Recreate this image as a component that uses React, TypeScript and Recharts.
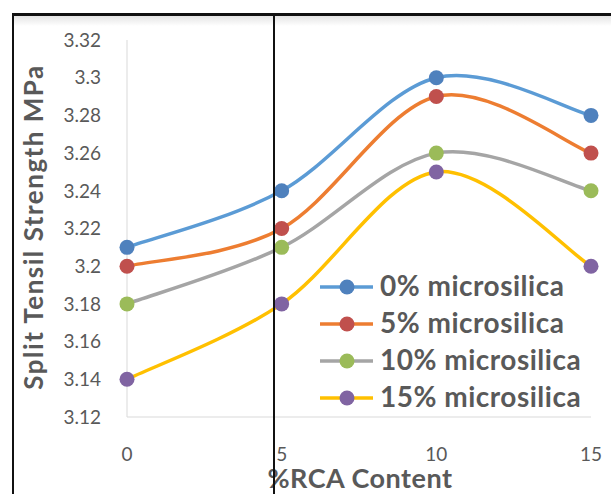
import { LineChart, Line, XAxis, YAxis } from 'recharts';

const rcaContent = [0, 5, 10, 15];
const ms0 = [3.21, 3.24, 3.3, 3.28];
const ms5 = [3.2, 3.22, 3.29, 3.26];
const ms10 = [3.18, 3.21, 3.26, 3.24];
const ms15 = [3.14, 3.18, 3.25, 3.2];
const yTicks = [3.12, 3.14, 3.16, 3.18, 3.2, 3.22, 3.24, 3.26, 3.28, 3.3, 3.32];

const SERIES = [
  { key: 'ms0', name: '0% microsilica', line: '#5B9BD5', dot: '#4F81BD' },
  { key: 'ms5', name: '5% microsilica', line: '#ED7D31', dot: '#C0504D' },
  { key: 'ms10', name: '10% microsilica', line: '#A5A5A5', dot: '#9BBB59' },
  { key: 'ms15', name: '15% microsilica', line: '#FFC000', dot: '#8064A2' },
];

const data = rcaContent.map((x, i) => ({
  x,
  ms0: ms0[i],
  ms5: ms5[i],
  ms10: ms10[i],
  ms15: ms15[i],
}));

const FONT = 'Lato, "Open Sans", sans-serif';
const GREY = '#595959';

// Excel-style smoothed line (Catmull-Rom through the points)
const excelSmooth = (ctx: any) => {
  let pts: [number, number][] = [];
  return {
    areaStart() {},
    areaEnd() {},
    lineStart() {
      pts = [];
    },
    point(x: number, y: number) {
      pts.push([x, y]);
    },
    lineEnd() {
      if (!pts.length) return;
      ctx.moveTo(pts[0][0], pts[0][1]);
      for (let i = 0; i < pts.length - 1; i++) {
        const p0 = pts[Math.max(i - 1, 0)];
        const p1 = pts[i];
        const p2 = pts[i + 1];
        const p3 = pts[Math.min(i + 2, pts.length - 1)];
        ctx.bezierCurveTo(
          p1[0] + (p2[0] - p0[0]) / 6,
          p1[1] + (p2[1] - p0[1]) / 6,
          p2[0] - (p3[0] - p1[0]) / 6,
          p2[1] - (p3[1] - p1[1]) / 6,
          p2[0],
          p2[1]
        );
      }
    },
  };
};

// legend sits inside the plot, drawn by hand so it takes no space from the plot
const ChartLegend = ({ x, y }: { x: number; y: number }) => (
  <g>
    {SERIES.map((s, i) => {
      const cy = y + i * 37;
      return (
        <g key={s.key}>
          <line x1={x} x2={x + 53} y1={cy} y2={cy} stroke={s.line} strokeWidth={3.5} />
          <circle cx={x + 27} cy={cy} r={7.5} fill={s.dot} />
          <text x={x + 60} y={cy + 9} fontSize={28} letterSpacing={0.5} fontWeight="bold" fill={GREY} fontFamily={FONT}>
            {s.name}
          </text>
        </g>
      );
    })}
  </g>
);

export default function App() {
  return (
    <div style={{ position: 'absolute', left: 0, top: 0, width: 611, height: 494, background: '#fff', overflow: 'hidden' }}>
      <LineChart width={611} height={494} data={data} margin={{ top: 40, right: 20, left: 0, bottom: 0 }}>
        <XAxis
          dataKey="x"
          type="number"
          domain={[0, 15]}
          ticks={rcaContent}
          stroke="#D9D9D9"
          tickLine={false}
          tickSize={0}
          tickMargin={31}
          height={77}
          tick={{ fill: GREY, fontSize: 19, fontFamily: FONT }}
        />
        <YAxis
          domain={[3.12, 3.32]}
          ticks={yTicks}
          width={127}
          stroke="#D9D9D9"
          tickLine={false}
          tickSize={0}
          tickMargin={26}
          tickFormatter={(v: number) => String(+v.toFixed(2))}
          tick={{ fill: GREY, fontSize: 19, fontFamily: FONT }}
        />
        {SERIES.map((s) => (
          <Line
            key={s.key}
            dataKey={s.key}
            name={s.name}
            type={excelSmooth as any}
            stroke={s.line}
            strokeWidth={3.5}
            dot={{ r: 7.5, fill: s.dot, stroke: s.dot, strokeWidth: 0 }}
            isAnimationActive={false}
          />
        ))}
        <ChartLegend x={320} y={287} />
        <text
          x={0}
          y={0}
          transform="translate(43 227) rotate(-90)"
          textAnchor="middle"
          fontSize={26}
          letterSpacing={1.5}
          fontWeight="bold"
          fill={GREY}
          fontFamily={FONT}
        >
          Split Tensil Strength MPa
        </text>
        <text x={360} y={488} textAnchor="middle" fontSize={27} letterSpacing={0.5} fontWeight="bold" fill={GREY} fontFamily={FONT}>
          %RCA Content
        </text>
      </LineChart>
      <div style={{ position: 'absolute', left: 13, top: 16, width: 598, height: 10, background: 'linear-gradient(#e4e4e4, #fff)' }} />
      <div style={{ position: 'absolute', left: 12, top: 13, width: 599, height: 3, background: '#111' }} />
      <div style={{ position: 'absolute', left: 12, top: 13, width: 2, height: 481, background: '#111' }} />
      <div style={{ position: 'absolute', left: 273, top: 13, width: 2, height: 481, background: '#111' }} />
    </div>
  );
}
